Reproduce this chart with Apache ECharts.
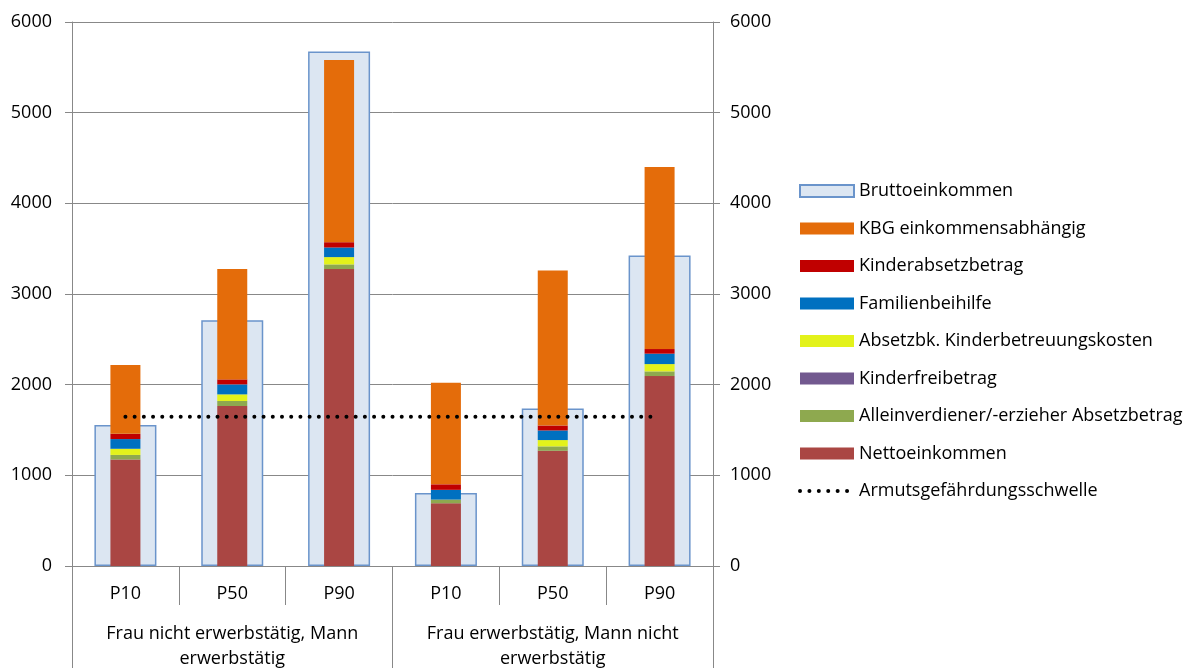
<!DOCTYPE html>
<html><head><meta charset="utf-8">
<script src="https://cdn.jsdelivr.net/npm/echarts@6/dist/echarts.min.js"></script>
<style>html,body{margin:0;padding:0;background:#fff}#c{width:1188px;height:671px}</style>
</head><body><div id="c"></div>
<script>
const categories = ['P10','P50','P90','P10','P50','P90'];
const groups = ['Frau nicht erwerbstätig, Mann\nerwerbstätig', 'Frau erwerbstätig, Mann nicht\nerwerbstätig'];
const yTicks = [0, 1000, 2000, 3000, 4000, 5000, 6000];
const bruttoeinkommen = [1555, 2710, 5675, 805, 1736, 3425];
const nettoeinkommen = [1175, 1765, 3275, 692, 1271, 2095];
const alleinverdiener = [50, 55, 51, 41, 48, 51];
const kinderfreibetrag = [0, 0, 0, 0, 0, 0];
const absetzbkKinderbetreuung = [68, 73, 81, 0, 70, 81];
const familienbeihilfe = [107, 110, 106, 107, 106, 115];
const kinderabsetzbetrag = [58, 55, 58, 61, 54, 51];
const kbgEinkommensabhaengig = [758, 1217, 2009, 1121, 1711, 2009];
const armutsschwelle = [1645, 1645, 1645, 1645, 1645, 1645];

const FONT = 'Open Sans';
const FS = 18;
const axisGray = '#888888';
const chart = echarts.init(document.getElementById('c'));

function stackBar(name, data, color) {
  return { name, type: 'bar', stack: 'total', xAxisIndex: 0, yAxisIndex: 0, barWidth: 30,
    data, itemStyle: { color }, z: 3 };
}
const plainNum = v => String(v);

chart.setOption({
  animation: false,
  textStyle: { fontFamily: FONT, color: '#000' },
  grid: { left: 72, right: 475, top: 22, bottom: 102, containLabel: false },
  legend: {
    orient: 'vertical', left: 793, top: 176, padding: 5, itemWidth: 54, itemHeight: 12, itemGap: 17.5,
    textStyle: { fontFamily: FONT, fontSize: FS, color: '#000', lineHeight: 20 },
    data: [
      { name: 'Bruttoeinkommen', icon: 'rect' },
      { name: 'KBG einkommensabhängig', icon: 'rect' },
      { name: 'Kinderabsetzbetrag', icon: 'rect' },
      { name: 'Familienbeihilfe', icon: 'rect' },
      { name: 'Absetzbk. Kinderbetreuungskosten', icon: 'rect' },
      { name: 'Kinderfreibetrag', icon: 'rect' },
      { name: 'Alleinverdiener/-erzieher Absetzbetrag', icon: 'rect' },
      { name: 'Nettoeinkommen', icon: 'rect' },
      { name: 'Armutsgefährdungsschwelle',
        itemStyle: { color: 'rgba(0,0,0,0)', opacity: 0 },
        lineStyle: { width: 4, color: '#000', type: [0.01, 9.4], cap: 'round' } }
    ]
  },
  xAxis: [
    { type: 'category', data: categories, position: 'bottom',
      axisLine: { show: true, lineStyle: { color: axisGray, width: 1 } },
      axisTick: { show: true, interval: 0, length: 39, lineStyle: { color: axisGray } },
      axisLabel: { interval: 0, margin: 19, fontSize: FS, color: '#000', fontFamily: FONT } },
    { type: 'category', data: groups, position: 'bottom',
      axisLine: { show: false },
      axisTick: { show: true, interval: 0, length: 102, lineStyle: { color: axisGray } },
      axisLabel: { interval: 0, margin: 55, fontSize: FS, lineHeight: 25, color: '#000', fontFamily: FONT, align: 'center' } },
    { type: 'category', data: categories, show: false }
  ],
  yAxis: [
    { type: 'value', min: yTicks[0], max: yTicks[yTicks.length - 1], interval: 1000, position: 'left',
      axisLine: { show: true, lineStyle: { color: axisGray } },
      axisTick: { show: true, length: 7, lineStyle: { color: axisGray } },
      splitLine: { show: true, lineStyle: { color: axisGray, width: 1 } },
      axisLabel: { margin: 20, fontSize: FS, color: '#000', fontFamily: FONT, formatter: plainNum } },
    { type: 'value', min: yTicks[0], max: yTicks[yTicks.length - 1], interval: 1000, position: 'right',
      axisLine: { show: true, lineStyle: { color: axisGray } },
      axisTick: { show: true, length: 7, lineStyle: { color: axisGray } },
      splitLine: { show: false },
      axisLabel: { margin: 17, fontSize: FS, color: '#000', fontFamily: FONT, formatter: plainNum } }
  ],
  series: [
    { name: 'Bruttoeinkommen', type: 'bar', xAxisIndex: 2, yAxisIndex: 0, barWidth: 62, z: 2,
      data: bruttoeinkommen,
      itemStyle: { color: '#DCE6F2', borderColor: '#6A94CB', borderWidth: 1.5 } },
    stackBar('Nettoeinkommen', nettoeinkommen, '#AA4643'),
    stackBar('Alleinverdiener/-erzieher Absetzbetrag', alleinverdiener, '#8EA94F'),
    stackBar('Kinderfreibetrag', kinderfreibetrag, '#72598F'),
    stackBar('Absetzbk. Kinderbetreuungskosten', absetzbkKinderbetreuung, '#E3F21B'),
    stackBar('Familienbeihilfe', familienbeihilfe, '#0070C0'),
    stackBar('Kinderabsetzbetrag', kinderabsetzbetrag, '#C00000'),
    stackBar('KBG einkommensabhängig', kbgEinkommensabhaengig, '#E46C0A'),
    { name: 'Armutsgefährdungsschwelle', type: 'line', xAxisIndex: 0, yAxisIndex: 0, z: 5,
      data: armutsschwelle, symbol: 'none', showSymbol: false,
      itemStyle: { color: '#000' },
      lineStyle: { color: '#000', width: 4, type: [0.01, 9.2], cap: 'round' } }
  ]
});
</script></body></html>
